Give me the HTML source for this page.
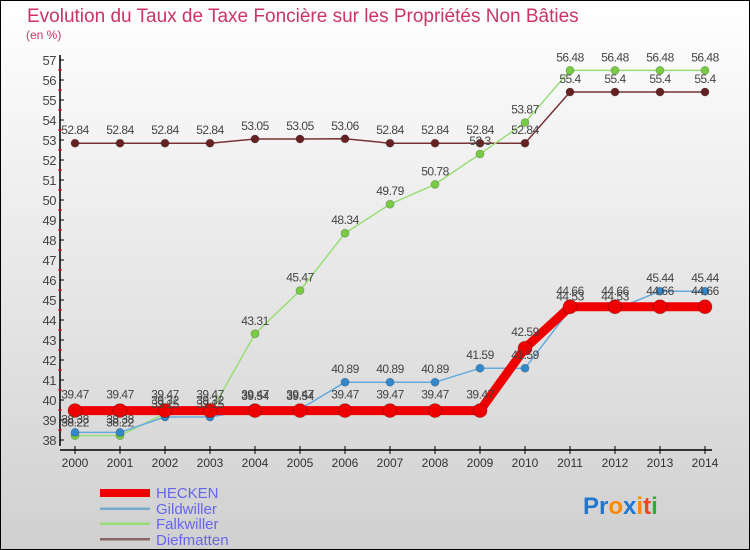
<!DOCTYPE html>
<html><head><meta charset="utf-8"><style>
body{margin:0;}
svg{display:block;font-family:"Liberation Sans",sans-serif;}
</style></head><body>
<svg id="c" width="750" height="550" xmlns="http://www.w3.org/2000/svg">
<defs><linearGradient id="bg" x1="0" y1="0" x2="0" y2="1"><stop offset="0" stop-color="#ffffff"/><stop offset="1" stop-color="#d0d0d0"/></linearGradient></defs>
<rect x="0.5" y="0.5" width="749" height="549" fill="url(#bg)" stroke="#000"/>
<text x="27" y="22" font-size="19" fill="#cc3366">Evolution du Taux de Taxe Foncière sur les Propriétés Non Bâties</text>
<text x="26" y="39" font-size="12" fill="#cc3366">(en %)</text>
<g id="axes"></g><g id="series"></g><g id="labels"></g>
<g>
<rect x="100" y="489" width="50" height="8" fill="#ee0000"/>
<text x="156" y="498" font-size="15" fill="#6666ee">HECKEN</text>
<rect x="100" y="507.5" width="50" height="2.5" fill="#77aacc"/>
<text x="156" y="514" font-size="15" fill="#6666ee">Gildwiller</text>
<rect x="100" y="522.5" width="50" height="2.5" fill="#99dd77"/>
<text x="156" y="529" font-size="15" fill="#6666ee">Falkwiller</text>
<rect x="100" y="538" width="50" height="2.5" fill="#886666"/>
<text x="156" y="545" font-size="15" fill="#6666ee">Diefmatten</text>
</g>
<text x="583" y="514" font-size="24" font-weight="bold"><tspan fill="#2277cc">Pr</tspan><tspan fill="#ff8800">o</tspan><tspan fill="#2277cc">x</tspan><tspan fill="#ff8800">i</tspan><tspan fill="#ee4422">t</tspan><tspan fill="#33aa33">i</tspan></text>
</svg>
<script>
const years=[2000,2001,2002,2003,2004,2005,2006,2007,2008,2009,2010,2011,2012,2013,2014];
const hecken=[39.47,39.47,39.47,39.47,39.47,39.47,39.47,39.47,39.47,39.47,42.59,44.66,44.66,44.66,44.66];
const gildwiller=[38.38,38.38,39.15,39.15,39.54,39.54,40.89,40.89,40.89,41.59,41.59,44.53,44.53,45.44,45.44];
const falkwiller=[38.22,38.22,39.32,39.32,43.31,45.47,48.34,49.79,50.78,52.3,53.87,56.48,56.48,56.48,56.48];
const diefmatten=[52.84,52.84,52.84,52.84,53.05,53.05,53.06,52.84,52.84,52.84,52.84,55.4,55.4,55.4,55.4];
const yTicks=[38,39,40,41,42,43,44,45,46,47,48,49,50,51,52,53,54,55,56,57];

const NS="http://www.w3.org/2000/svg";
const xS=i=>75+i*45;
const yS=v=>440-(v-38)*20;
function mk(tag,attrs,parent){const e=document.createElementNS(NS,tag);for(const k in attrs)e.setAttribute(k,attrs[k]);parent.appendChild(e);return e;}
const axes=document.getElementById('axes'),ser=document.getElementById('series'),lab=document.getElementById('labels');

let yl=mk('line',{x1:60,y1:55,x2:60,y2:446,stroke:'#000','stroke-width':1.5},axes);


let xl=mk('line',{x1:60,y1:450,x2:712,y2:450,stroke:'#000','stroke-width':1.5},axes);


yTicks.forEach(v=>{
  mk('line',{x1:60,y1:yS(v),x2:64,y2:yS(v),stroke:'#000'},axes);
  if(v<57)mk('line',{x1:58,y1:yS(v)-10,x2:62,y2:yS(v)-10,stroke:'#e00'},axes);
  const t=mk('text',{x:56,y:yS(v)+5,'font-size':13,'text-anchor':'end',fill:'#444','letter-spacing':'-0.5'},axes);
  t.textContent=v;
  
  
});
years.forEach((y,i)=>{
  mk('line',{x1:xS(i),y1:446,x2:xS(i),y2:454,stroke:'#000'},axes);
  const t=mk('text',{x:xS(i),y:467,'font-size':12,'text-anchor':'middle',fill:'#333'},axes);
  t.textContent=y;
  
  
});
function series(name,vals,color,w,r,dot){
  const pts=vals.map((v,i)=>xS(i)+','+yS(v)).join(' ');
  const pl=mk('polyline',{points:pts,fill:'none',stroke:color,'stroke-width':w,'stroke-linejoin':'round'},ser);
  
  
  vals.forEach((v,i)=>{
    const c=mk('circle',{cx:xS(i),cy:yS(v),r:r,fill:dot,stroke:'#0003'},ser);
    
    
    const t=mk('text',{x:xS(i),y:yS(v)-r-5,'font-size':12,'text-anchor':'middle',fill:'#444','letter-spacing':'-0.5'},lab);
    t.textContent=v.toFixed(2).replace(/0$/,'').replace(/\.0?$/,'');
    
    
  });
}
series('diefmatten',diefmatten,'#773333',1.5,4,'#662222');
series('falkwiller',falkwiller,'#99dd77',1.5,4,'#77cc44');
series('gildwiller',gildwiller,'#66aadd',1.5,4,'#3388cc');
series('hecken',hecken,'#ee0000',9,7,'#ee0000');
</script>
</body></html>
